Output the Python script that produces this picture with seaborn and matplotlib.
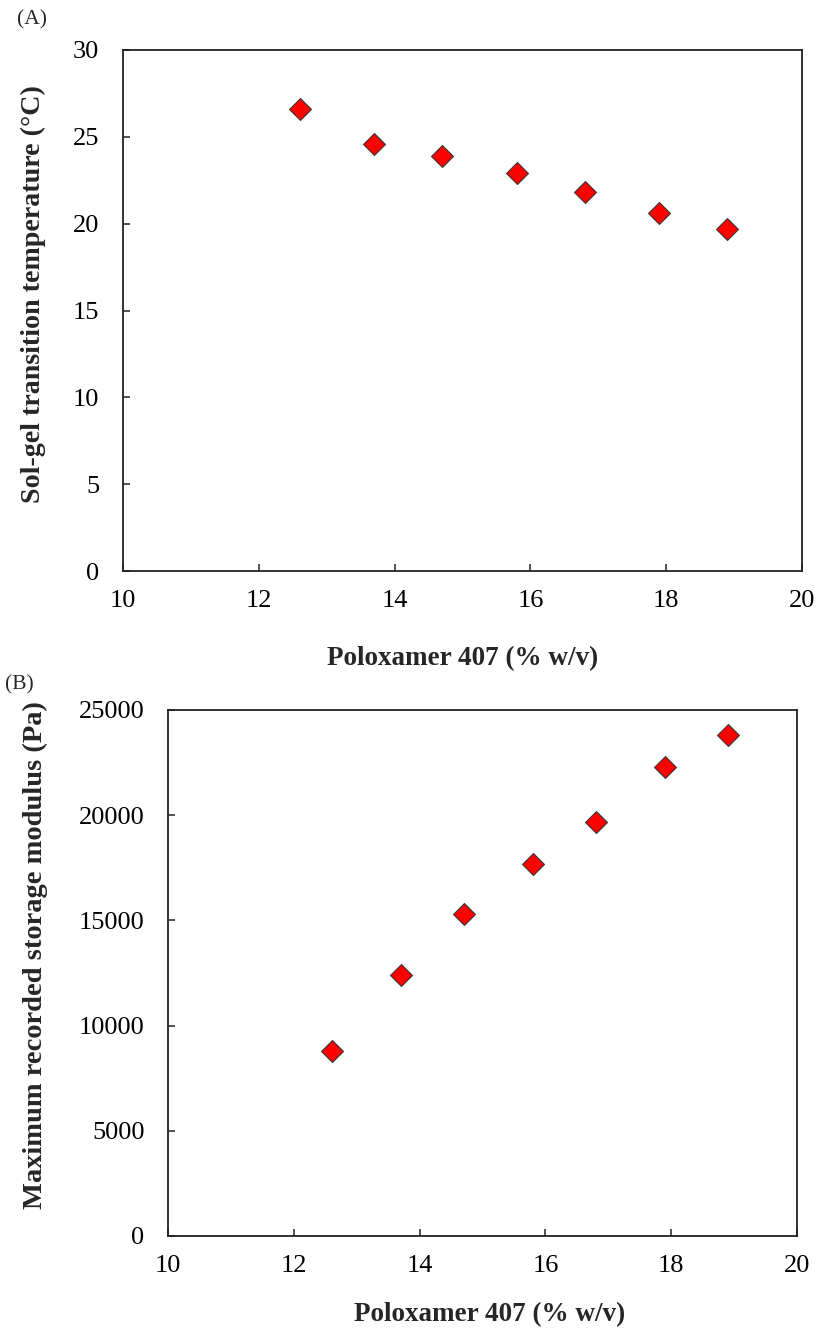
import matplotlib
matplotlib.use('Agg')
import matplotlib.pyplot as plt
import seaborn as sns
import pandas as pd

# Poloxamer 407 concentration (% w/v)
poloxamer = [12.6, 13.7, 14.7, 15.8, 16.8, 17.9, 18.9]
# (A) sol-gel transition temperature (deg C)
sol_gel_temp = [26.6, 24.6, 23.9, 22.9, 21.8, 20.6, 19.7]
# (B) maximum recorded storage modulus (Pa)
storage_modulus = [8800, 12400, 15300, 17700, 19700, 22300, 23800]

df = pd.DataFrame({'Poloxamer': poloxamer, 'Temp': sol_gel_temp, 'Gmax': storage_modulus})

sns.set_style('white')
plt.rcParams['font.family'] = ['Liberation Serif', 'DejaVu Serif']

W, H = 817, 1334
fig = plt.figure(figsize=(W / 100, H / 100), dpi=100)

axA = fig.add_axes([123 / W, 1 - 571 / H, 679 / W, 521 / H])
axB = fig.add_axes([168 / W, 1 - 1236 / H, 629 / W, 526 / H])

marker_kw = dict(marker='D', s=125, color='#ff0000', edgecolor='#3a3a3a', linewidth=0.8, legend=False, zorder=3)

sns.scatterplot(data=df, x='Poloxamer', y='Temp', ax=axA, **marker_kw)
sns.scatterplot(data=df, x='Poloxamer', y='Gmax', ax=axB, **marker_kw)

axA.set_ylim(0, 30)
axA.set_yticks([0, 5, 10, 15, 20, 25, 30])
axB.set_ylim(0, 25000)
axB.set_yticks([0, 5000, 10000, 15000, 20000, 25000])

for ax in (axA, axB):
    ax.set_xlim(10, 20)
    ax.set_xticks([10, 12, 14, 16, 18, 20])
    for sp in ax.spines.values():
        sp.set_visible(True)
        sp.set_color('#222222')
        sp.set_linewidth(1.3)
    ax.tick_params(axis='both', direction='in', length=5, width=1.1, color='#222222',
                   labelsize=19, labelcolor='black', bottom=True, left=True, top=False, right=False)
    ax.tick_params(axis='x', pad=14)
    ax.tick_params(axis='y', pad=17)

axA.set_xlabel('Poloxamer 407 (% w/v)', fontsize=19.5, fontweight='bold')
axA.set_ylabel('Sol-gel transition temperature (°C)', fontsize=20.2, fontweight='bold')
axA.xaxis.set_label_coords(0.5, -0.145)
axA.yaxis.set_label_coords(-0.113, 0.532)

axB.set_xlabel('Poloxamer 407 (% w/v)', fontsize=19.5, fontweight='bold')
axB.set_ylabel('Maximum recorded storage modulus (Pa)', fontsize=20.5, fontweight='bold')
axB.xaxis.set_label_coords(0.512, -0.125)
axB.yaxis.set_label_coords(-0.19, 0.534)

fig.text(17 / W, 1 - 20 / H, '(A)', fontsize=15.5, va='center', ha='left')
fig.text(5 / W, 1 - 685 / H, '(B)', fontsize=15.5, va='center', ha='left')

fig.savefig('out.png', dpi=100)
